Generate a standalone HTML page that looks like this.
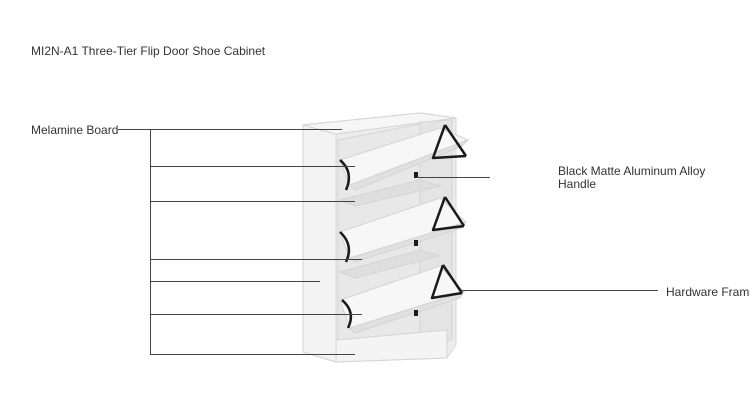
<!DOCTYPE html>
<html><head><style>
html,body{margin:0;padding:0;background:#fff;}
body{width:750px;height:407px;position:relative;overflow:hidden;font-family:"Liberation Sans",sans-serif;color:#333;}
.t{position:absolute;font-size:12px;white-space:nowrap;line-height:13px;}
svg{position:absolute;left:0;top:0;}
</style></head><body>
<svg width="750" height="407">
<g stroke="#d4d4d4" stroke-width="1">
<polygon points="303,125 420,113 456,118 456,345 447,358 336,362 303,352" fill="#ececec"/>
<polygon points="303,125 336,134 336,362 303,352" fill="#f3f3f3"/>
<polygon points="303,125 420,113 456,118 336,134" fill="#f6f6f6"/>
<polygon points="420,122 452,120 452,340 420,340" fill="#e4e4e4"/>
<polygon points="338,140 420,124 420,340 338,350" fill="#e8e8e8"/>
<polygon points="340,200 420,180 440,186 355,206" fill="#dedede"/>
<polygon points="340,272 420,250 440,256 355,278" fill="#dedede"/>
<!-- doors -->
<polygon points="340,160 440,128 468,140 350,185" fill="#f7f7f7"/>
<polygon points="350,185 468,140 462,146 355,190" fill="#e0e0e0"/>
<polygon points="340,232 440,198 466,222 350,258" fill="#f7f7f7"/>
<polygon points="350,258 466,222 462,228 355,262" fill="#e0e0e0"/>
<polygon points="340,300 440,266 464,292 350,328" fill="#f7f7f7"/>
<polygon points="350,328 464,292 460,298 355,333" fill="#e0e0e0"/>
<polygon points="336,340 447,330 447,358 336,362" fill="#f4f4f4"/>
</g>
<g fill="none" stroke="#1a1a1a" stroke-width="2.5" stroke-linejoin="round">
<path d="M340,160 Q354,172 346,190"/>
<path d="M340,232 Q354,245 346,262"/>
<path d="M342,300 Q356,312 348,328"/>
<path d="M445,125 L433,158 L466,156"/>
<path d="M445,125 L466,156"/>
<path d="M445,197 L433,230 L464,226"/>
<path d="M445,197 L464,226"/>
<path d="M443,265 L432,298 L462,293"/>
<path d="M443,265 L462,293"/>
</g>
<g fill="#1a1a1a">
<rect x="414" y="172" width="4" height="6"/><rect x="414" y="240" width="4" height="6"/><rect x="414" y="310" width="4" height="6"/>
</g>
<g stroke="#444" stroke-width="1" fill="none">
<line x1="118" y1="129.5" x2="342" y2="129.5"/>
<line x1="150.5" y1="129" x2="150.5" y2="355"/>
<line x1="150" y1="166.5" x2="355" y2="166.5"/>
<line x1="150" y1="201.5" x2="355" y2="201.5"/>
<line x1="150" y1="259.5" x2="362" y2="259.5"/>
<line x1="150" y1="281.5" x2="320" y2="281.5"/>
<line x1="150" y1="314.5" x2="362" y2="314.5"/>
<line x1="150" y1="354.5" x2="355" y2="354.5"/>
<line x1="416" y1="177.5" x2="490" y2="177.5"/>
<line x1="462" y1="290.5" x2="658" y2="290.5"/>
</g>
</svg>
<div class="t" style="left:31px;top:45px;">MI2N-A1 Three-Tier Flip Door Shoe Cabinet</div>
<div class="t" style="left:31px;top:124px;">Melamine Board</div>
<div class="t" style="left:558px;top:165px;">Black Matte Aluminum Alloy<br>Handle</div>
<div class="t" style="left:666px;top:286px;">Hardware Frame</div>
</body></html>
